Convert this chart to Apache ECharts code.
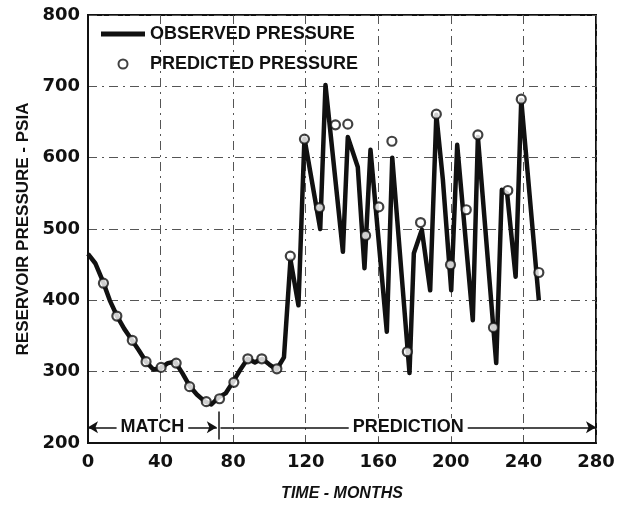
<!DOCTYPE html>
<html>
<head>
<meta charset="utf-8">
<script src="https://cdn.jsdelivr.net/npm/echarts@6/dist/echarts.min.js"></script>
<style>
  html, body { margin: 0; padding: 0; background: #fff; }
  #chart { width: 626px; height: 507px; }
</style>
</head>
<body>
<div id="chart"></div>
<script>
// observed pressure curve [month, psia]
const observed = [
  [0, 465], [4, 452], [8, 428], [12, 400], [16, 378], [20, 360], [24, 345], [28, 330],
  [32, 314], [36, 303], [40, 305], [44, 312], [48, 314], [52, 298], [56, 280], [60, 268],
  [64, 259], [68, 254], [72, 264], [76, 270], [80, 286], [84, 303], [88, 318], [92, 313],
  [96, 318], [100, 310], [104, 303], [108, 320], [111.6, 457], [116, 393], [119.3, 627],
  [128, 500], [130.9, 702], [140.5, 468], [143.2, 629], [148.7, 587], [152.4, 445],
  [155.7, 611], [164.7, 356], [167.7, 600], [177.2, 298], [179.6, 466], [184, 499],
  [188.6, 414], [192, 660], [195.6, 569], [200.2, 414], [203.5, 618], [212.1, 372],
  [214.9, 629], [225, 312], [228.1, 555], [231, 550], [235.7, 433], [238.8, 681], [248.5, 400]
];
// predicted pressure points [month, psia]
const predicted = [
  [8.5, 424], [15.9, 378], [24.4, 344], [32, 314], [40.3, 306], [48.6, 312], [56, 279],
  [65.2, 258], [72.5, 262], [80.4, 285], [88.1, 318], [95.8, 318], [104.1, 304], [111.5, 462],
  [119.3, 626], [127.6, 530], [136.4, 646], [143.2, 647], [153, 491], [160.3, 531],
  [167.5, 623], [176, 328], [183.3, 509], [192, 661], [199.8, 450], [208.5, 527],
  [214.9, 632], [223.5, 362], [231.4, 554], [238.8, 682], [248.5, 439]
];
const xTicks = [0, 280, 40];
const yTicks = [200, 800, 100];
const matchRange = [0, 71];
const predictionRange = [73, 280];
const periodLevel = 222;
const splitMonth = 72;

const chart = echarts.init(document.getElementById('chart'));
const bold = { fontFamily: 'DejaVu Sans', fontWeight: 'bold', color: '#111' };
const gridLine = { show: true, lineStyle: { color: '#555', width: 1, type: [9, 5, 2, 5] } };

chart.setOption({
  animation: false,
  grid: { left: 88, right: 30, top: 15, bottom: 64, show: true, borderColor: '#111', borderWidth: 2 },
  legend: {
    orient: 'vertical', left: 96, top: 20, itemWidth: 44, itemHeight: 9, itemGap: 12,
    textStyle: { fontFamily: 'Liberation Sans', fontWeight: 'bold', fontSize: 18, color: '#111' },
    data: [
      { name: 'OBSERVED PRESSURE', icon: 'path://M0 0H44V5H0Z' },
      { name: 'PREDICTED PRESSURE' }
    ]
  },
  xAxis: {
    type: 'value', min: xTicks[0], max: xTicks[1], interval: xTicks[2],
    name: 'TIME - MONTHS', nameLocation: 'middle', nameGap: 43,
    nameTextStyle: { fontFamily: 'Liberation Sans', fontWeight: 'bold', fontStyle: 'italic', fontSize: 16, color: '#111' },
    axisLine: { lineStyle: { color: '#111', width: 2 } },
    axisTick: { show: false },
    axisLabel: Object.assign({ fontSize: 18, margin: 10 }, bold),
    splitLine: gridLine
  },
  yAxis: {
    type: 'value', min: yTicks[0], max: yTicks[1], interval: yTicks[2],
    name: 'RESERVOIR PRESSURE - PSIA', nameLocation: 'middle', nameGap: 56, nameRotate: 90,
    nameTextStyle: { fontFamily: 'Liberation Sans', fontWeight: 'bold', fontSize: 17, color: '#111' },
    axisLine: { show: true, lineStyle: { color: '#111', width: 2 } },
    axisTick: { show: false },
    axisLabel: Object.assign({ fontSize: 18, margin: 8 }, bold),
    splitLine: gridLine
  },
  series: [
    {
      name: 'OBSERVED PRESSURE', type: 'line', data: observed,
      showSymbol: false, symbol: 'none',
      lineStyle: { color: '#111', width: 4.5, join: 'round' },
      itemStyle: { color: '#111' },
      markLine: {
        silent: true, symbolSize: [9, 10],
        lineStyle: { color: '#111', width: 1.5, type: 'solid' },
        label: { show: true, position: 'insideMiddle', backgroundColor: '#fff', padding: [0, 4],
          fontFamily: 'Liberation Sans', fontWeight: 'bold', fontSize: 18, color: '#111' },
        data: [
          [{ coord: [matchRange[0], periodLevel], symbol: 'arrow', name: 'MATCH' },
           { coord: [matchRange[1], periodLevel], symbol: 'arrow' }],
          [{ coord: [predictionRange[0], periodLevel], symbol: 'none', name: 'PREDICTION' },
           { coord: [predictionRange[1], periodLevel], symbol: 'arrow' }],
          [{ coord: [splitMonth, 205], symbol: 'none', label: { show: false } },
           { coord: [splitMonth, 244], symbol: 'none' }]
        ]
      }
    },
    {
      name: 'PREDICTED PRESSURE', type: 'scatter', data: predicted,
      symbol: 'circle', symbolSize: 9, z: 5,
      itemStyle: { color: '#fff', borderColor: '#111', borderWidth: 2.2 }
    }
  ]
});
</script>
</body>
</html>
